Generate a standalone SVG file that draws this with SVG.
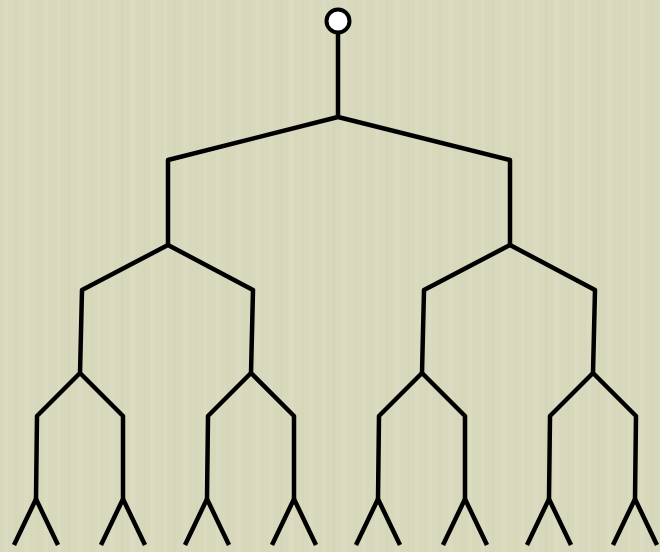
<svg xmlns="http://www.w3.org/2000/svg" width="660" height="552" viewBox="0 0 660 552">
<defs>
<pattern id="tex" x="0" y="0" width="53" height="552" patternUnits="userSpaceOnUse">
<rect x="0" y="0" width="53" height="552" fill="#d8d8bc"/>
<rect x="4" y="0" width="4" height="552" fill="#dedec4" opacity="0.6"/>
<rect x="15" y="0" width="2" height="552" fill="#cfcfb2" opacity="0.4"/>
<rect x="24" y="0" width="5" height="552" fill="#dfdec5" opacity="0.5"/>
<rect x="37" y="0" width="2" height="552" fill="#d0d0b3" opacity="0.35"/>
<rect x="44" y="0" width="4" height="552" fill="#dfdfc6" opacity="0.45"/>
</pattern>
<style>
.br{fill:none;stroke:#000;stroke-width:4.5;stroke-linejoin:round;stroke-linecap:butt}
.nd{fill:#fff;stroke:#000;stroke-width:4}
</style>
</defs>
<rect width="660" height="552" fill="url(#tex)"/>
<g id="connectors">
<path class="br" d="M338,33 V117"/>
<path class="br" d="M168,245 V160 L338,117 L510,160 V245"/>
<path class="br" d="M80,373 L82,290 L168,245 L253,290 L251,373"/>
<path class="br" d="M422,373 L424,290 L510,245 L595,290 L593,373"/>
<path class="br" d="M36,499 L37,416 L80,373 L123,416 L123,499"/>
<path class="br" d="M207,499 L208,416 L251,373 L294,416 L294,499"/>
<path class="br" d="M378,499 L379,416 L422,373 L465,416 L465,499"/>
<path class="br" d="M549,499 L550,416 L593,373 L636,416 L635,499"/>
<path class="br" d="M14,545 L36,499 L58,545"/>
<path class="br" d="M101,545 L123,499 L145,545"/>
<path class="br" d="M185,545 L207,499 L229,545"/>
<path class="br" d="M272,545 L294,499 L316,545"/>
<path class="br" d="M356,545 L378,499 L400,545"/>
<path class="br" d="M443,545 L465,499 L487,545"/>
<path class="br" d="M527,545 L549,499 L571,545"/>
<path class="br" d="M613,545 L635,499 L657,545"/>
</g>
<g id="root">
<circle class="nd" cx="338" cy="21" r="11.5"/>
</g>
</svg>
